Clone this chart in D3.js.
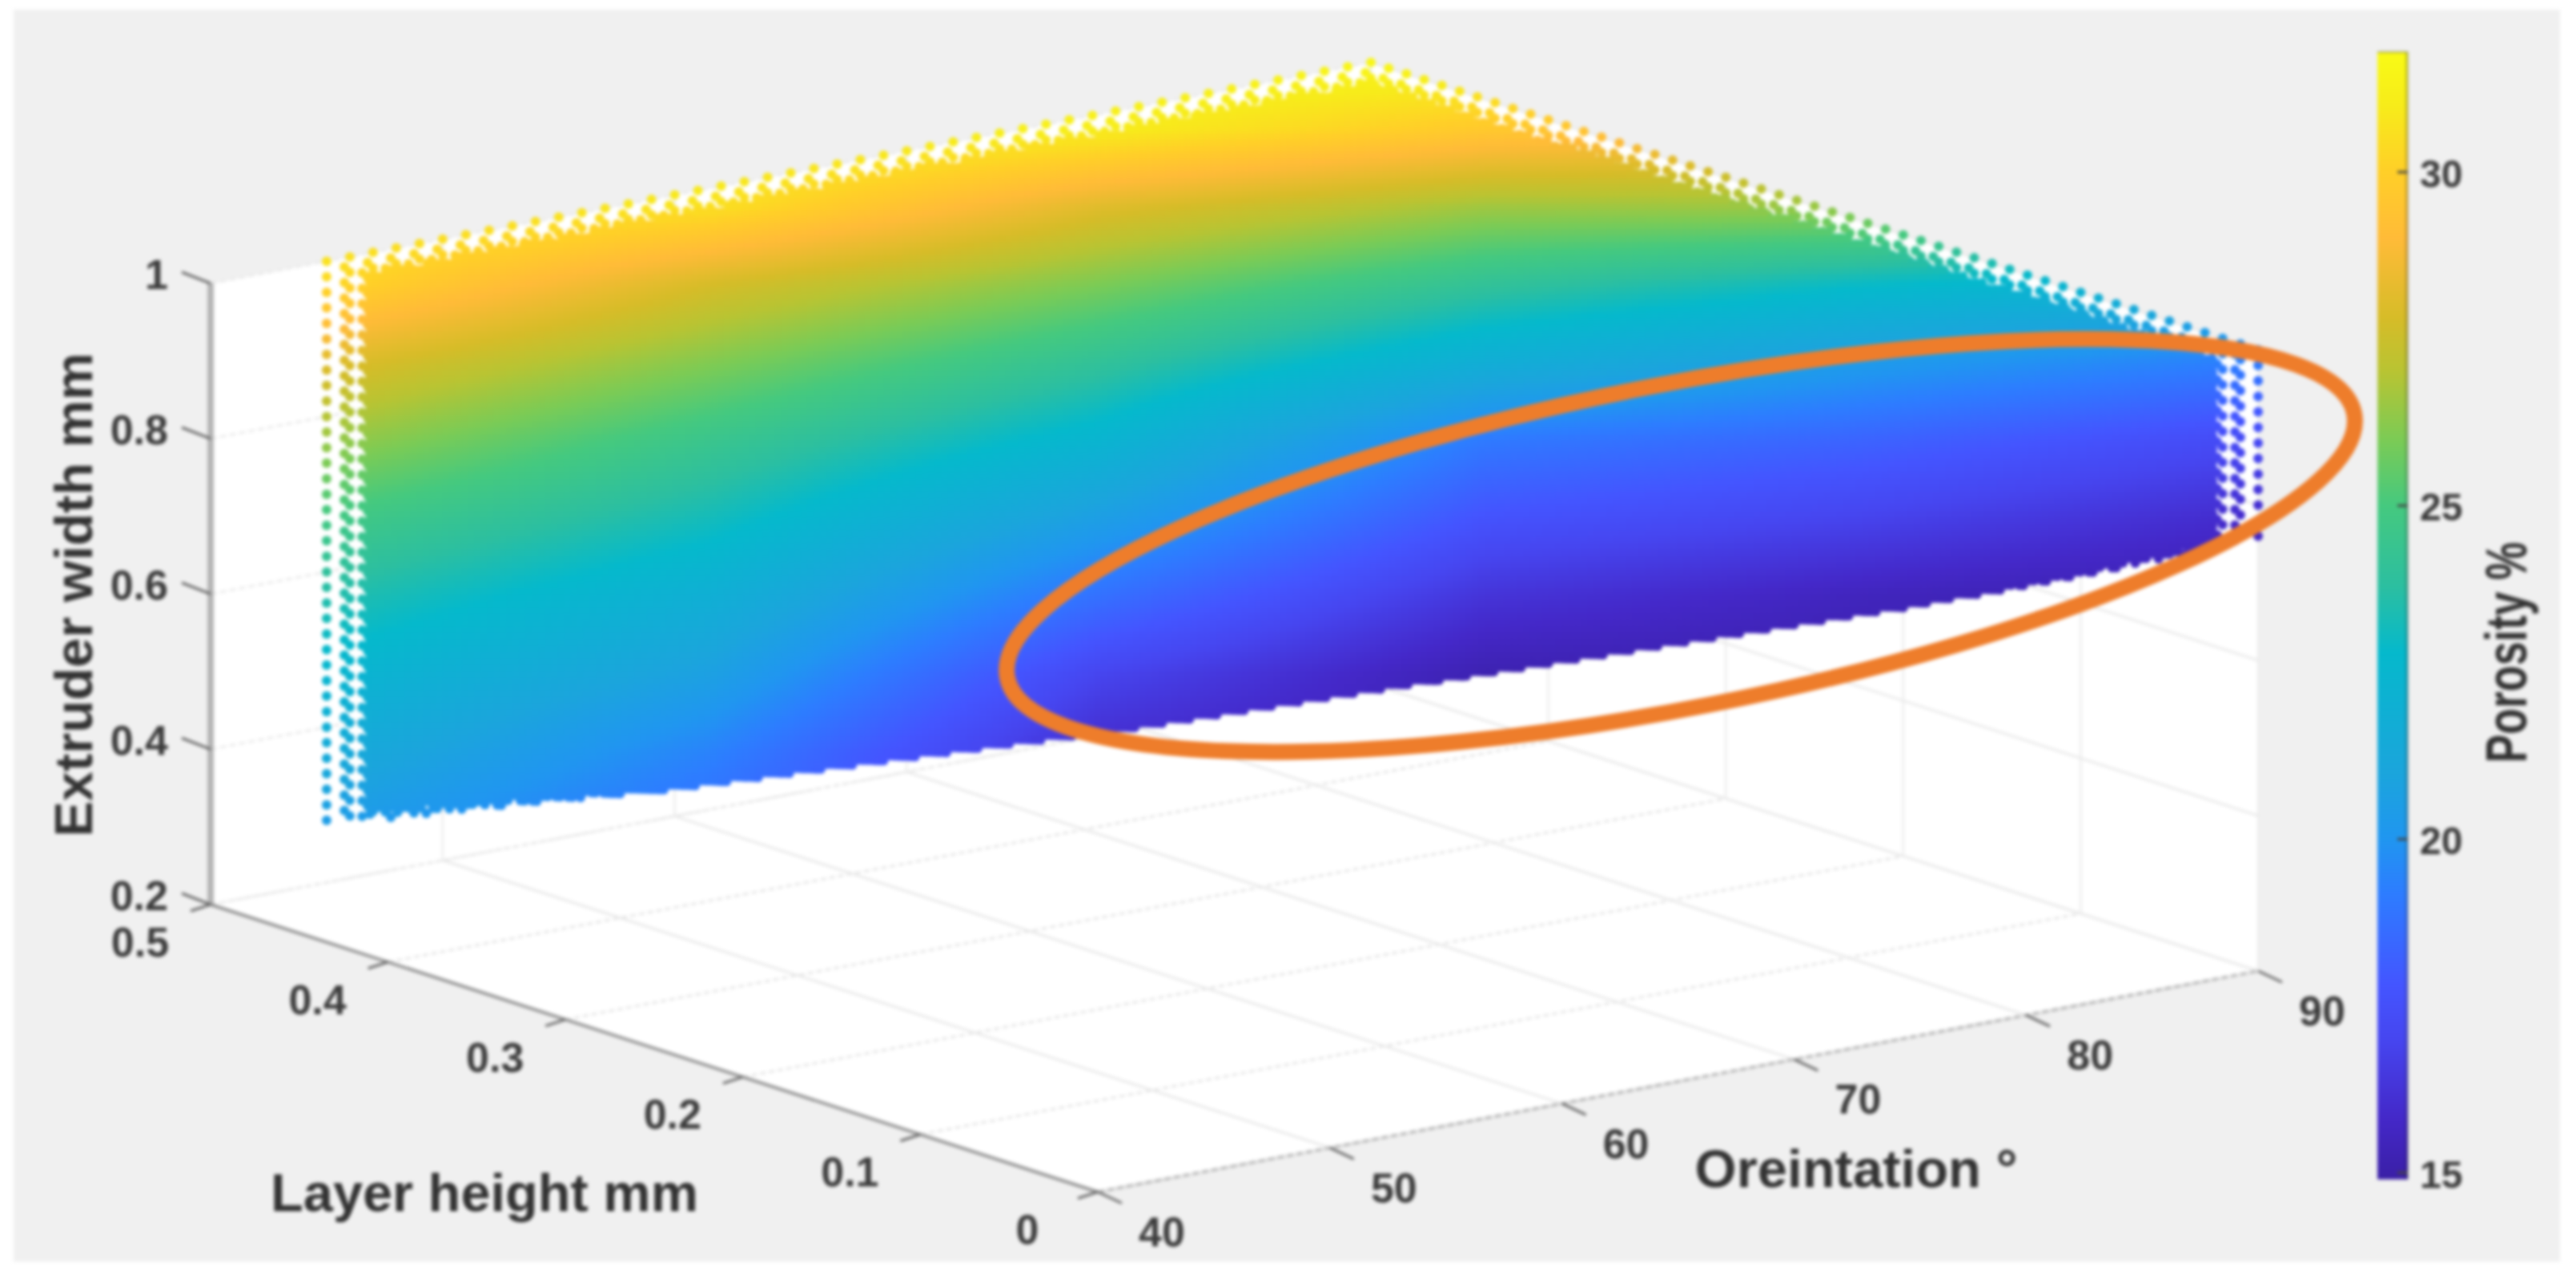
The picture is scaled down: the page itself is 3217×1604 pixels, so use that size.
<!DOCTYPE html>
<html><head><meta charset="utf-8">
<style>html,body{margin:0;padding:0;background:#fff}svg{display:block;filter:blur(1.9px)}text{font-family:"Liberation Sans",Arial,sans-serif;font-weight:700}</style>
<script src="https://cdn.jsdelivr.net/npm/d3@7/dist/d3.min.js"></script>
</head><body><svg id="c" width="3217" height="1604"></svg>
<script>
// ---- axis ticks ----
const orientationTicks=[40,50,60,70,80,90];
const layerTicks=[0,0.1,0.2,0.3,0.4,0.5];
const widthTicks=[0.2,0.4,0.6,0.8,1];
const porosityTicks=[15,20,25,30];
// ---- measured sample lattice of the scatter ----
const orientationLevels=d3.range(45,91);           // 1 degree steps
const layerLevels=d3.range(0,51).map(i=>i/100);    // 0.01 mm steps
const widthLevels=d3.range(14,51).map(i=>i/50);    // 0.02 mm steps, 0.28..1
// ---- porosity %, columns = sweep across the cloud, rows = apparent height ----
const sweepColumns=[45,54,63,72,81,90];
const apparentRows=[1.3,1.2,1.1,1.0,0.9,0.8,0.7,0.6,0.5,0.4,0.3];
const porosityRead=[
 [31.9,31.9,31.9,31.9,31.0,29.0],
 [31.9,31.9,31.1,29.7,29.0,27.0],
 [31.5,30.6,28.1,26.6,26.5,24.0],
 [30.3,27.8,26.0,24.1,22.9,22.0],
 [28.1,26.1,24.1,21.8,20.3,19.2],
 [26.5,24.5,22.4,19.1,18.3,17.2],
 [24.9,23.2,20.6,17.7,16.9,15.9],
 [23.6,21.9,18.8,16.3,15.5,15.0],
 [22.5,20.7,17.0,15.2,15.0,15.0],
 [21.5,19.4,15.9,15.0,15.0,15.0],
 [20.4,18.5,15.5,15.0,15.0,15.0]];
// lower outline of the cloud
const edgeSweep=[45,47.7,53.1,61.5,63.5,73.4,81.7,87.3,90];
const edgeApparent=[0.300,0.320,0.349,0.411,0.425,0.510,0.582,0.638,0.668];
// colour bar
const barValues=[14.9,15.8,17,17.8,19.2,20,21,22.8,23.8,25,26,27,27.8,29,30,31,31.9];
const barColours=["#3a1fa6","#4428c8","#4646f0","#4455ff","#2d7dff","#2096f0","#1ba5dc","#05b9cc","#2cbfa0","#45c97f","#7ccb55","#b8c433","#d6bc28","#ffbb38","#ffcf28","#f7ec1a","#f9fb15"];

const axisTitles={x:"Oreintation °",y:"Layer height mm",z:"Extruder width mm",c:"Porosity %"};

// ---- orthographic 3-D projection built from d3 scales ----
const F=[1371,1489],R=[2820,1213],L=[263,1130],H=776;
const xS=d3.scaleLinear([40,90],[0,1]),yS=d3.scaleLinear([0,0.5],[0,1]),zS=d3.scaleLinear([0.2,1],[0,1]);
const pX=(o,l)=>F[0]+(R[0]-F[0])*xS(o)+(L[0]-F[0])*yS(l);
const pY=(o,l,w)=>F[1]+(R[1]-F[1])*xS(o)+(L[1]-F[1])*yS(l)-H*zS(w);
const P=(o,l,w)=>[pX(o,l),pY(o,l,w)];
const sweepS=d3.scaleLinear([45,90],[pX(45,.5),pX(90,0)]);
const apparentS=d3.scaleLinear([0.2,1],[L[1],L[1]-H]);
const edgeS=d3.scaleLinear(edgeSweep,edgeApparent).clamp(true);
const topS=d3.scaleLinear([45,sweepS.invert(pX(90,.5)),90],[apparentS.invert(pY(45,.5,1)),apparentS.invert(pY(90,.5,1)),apparentS.invert(pY(90,0,1))]);
const colourS=d3.scaleLinear(barValues,barColours).clamp(true);
const cY=d3.scaleLinear([15,30],[1465,215]);

// shading of the dense cloud between the read cells
function porosityAt(px,py){
  const s=sweepS.invert(px),a=apparentS.invert(py);
  const ci=Math.max(0,Math.min(sweepColumns.length-2,Math.floor((s-45)/9)));
  const ri=Math.max(0,Math.min(apparentRows.length-2,Math.floor((1.3-a)/0.1)));
  const t=Math.max(0,Math.min(1,(s-sweepColumns[ci])/9)),u=Math.max(0,Math.min(1,(apparentRows[ri]-a)/0.1));
  const q=porosityRead;
  return (q[ri][ci]*(1-t)+q[ri][ci+1]*t)*(1-u)+(q[ri+1][ci]*(1-t)+q[ri+1][ci+1]*t)*u;
}
// outer shell: the lattice dots that stay individually visible along the outline of the cloud
const pts=[];
const leftBand=sweepS.invert(474),rightBand=sweepS.invert(2752);
widthLevels.forEach(w=>orientationLevels.forEach(o=>layerLevels.forEach(l=>{
  const px=pX(o,l),py=pY(o,l,w),s=sweepS.invert(px),a=apparentS.invert(py);
  const e=edgeS(s);
  if(a<e)return;
  if(s<leftBand||s>rightBand||a>topS(s)-0.045||a<e+0.02)pts.push({px,py});
})));
// interior: dense enough in the picture to read as continuous, so it is filled with a close dot mesh
const meshSweep=d3.range(sweepS.invert(462),sweepS.invert(2765),8/53.67);
const meshApparent=d3.range(0.30,1.30,8/970);
meshSweep.forEach(s=>meshApparent.forEach(a=>{
  if(a<edgeS(s)+0.008||a>topS(s)-0.026)return;
  pts.push({px:sweepS(s),py:apparentS(a)});
}));

const svg=d3.select("#c");
svg.append("rect").attr("x",17).attr("y",12).attr("width",3180).attr("height",1564).attr("fill","#f0f0f0");
svg.append("polygon").attr("fill","#fff").attr("points",[P(40,.5,.2),P(40,.5,1),P(90,.5,1),P(90,0,1),P(90,0,.2),P(40,0,.2)].join(" "));

const grid=svg.append("g").attr("fill","none");
function seg(g,a,b,col,w,dash){g.append("line").attr("x1",a[0]).attr("y1",a[1]).attr("x2",b[0]).attr("y2",b[1]).attr("stroke",col).attr("stroke-width",w).attr("stroke-dasharray",dash||null);}
layerTicks.forEach(l=>{seg(grid,P(40,l,.2),P(90,l,.2),"#e2e2e2",2.5,"7 4");seg(grid,P(90,l,.2),P(90,l,1),"#ececec",2.5);});
orientationTicks.forEach(o=>{seg(grid,P(o,0,.2),P(o,.5,.2),"#e6e6e6",2.5);seg(grid,P(o,.5,.2),P(o,.5,1),"#ececec",2.5);});
widthTicks.forEach(w=>{seg(grid,P(40,.5,w),P(90,.5,w),"#e8e8e8",2.5,"8 4");seg(grid,P(90,0,w),P(90,.5,w),"#e8e8e8",2.5);});

// axes
const ax=svg.append("g");
seg(ax,P(40,.5,.2),P(40,.5,1),"#b4b4b4",8);
seg(ax,P(40,.5,.2),P(40,0,.2),"#8c8c8c",3.5);
seg(ax,P(40,0,.2),P(90,0,.2),"#b8b8b8",3.5,"9 3");
const lab=svg.append("g").attr("fill","#3c3c3c").attr("font-size",52).attr("dominant-baseline","central");
widthTicks.forEach(w=>{const p=P(40,.5,w);seg(ax,p,[p[0]-36,p[1]-14],"#666",3);
  lab.append("text").attr("x",p[0]-53).attr("y",p[1]-11).attr("text-anchor","end").text(w);});
layerTicks.forEach(l=>{const p=P(40,l,.2);seg(ax,p,[p[0]-25,p[1]+8],"#666",3);
  lab.append("text").attr("x",p[0]-88).attr("y",p[1]+47).attr("text-anchor","middle").text(l);});
orientationTicks.forEach(o=>{const p=P(o,0,.2);seg(ax,p,[p[0]+30,p[1]+14],"#666",3);
  lab.append("text").attr("x",p[0]+80).attr("y",p[1]+50).attr("text-anchor","middle").text(o);});

// scatter cloud
svg.append("g").selectAll("circle").data(pts).join("circle")
  .attr("cx",d=>d.px).attr("cy",d=>d.py).attr("r",6).attr("fill",d=>colourS(porosityAt(d.px,d.py)));

// hand-drawn highlight ellipse
svg.append("ellipse").attr("cx",2099).attr("cy",681.5).attr("rx",857).attr("ry",202)
  .attr("transform","rotate(-11.1 2099 681.5)").attr("fill","none").attr("stroke","#ee7d2b").attr("stroke-width",20);

// colour bar
const defs=svg.append("defs"),gr=defs.append("linearGradient").attr("id","bar").attr("x1",0).attr("x2",0).attr("y1",1).attr("y2",0);
const cTop=cY(31.8),cBot=cY(14.9);
barValues.forEach((v,i)=>gr.append("stop").attr("offset",(cY(v)-cBot)/(cTop-cBot)).attr("stop-color",barColours[i]));
svg.append("rect").attr("x",2969).attr("y",cTop).attr("width",38).attr("height",cBot-cTop).attr("fill","url(#bar)");
seg(svg,[3006,cTop],[3006,cBot],"rgba(0,0,0,0.28)",3);
seg(svg,[2969,cTop],[3007,cTop],"rgba(0,0,0,0.3)",2);
porosityTicks.forEach(v=>{seg(svg,[2994,cY(v)],[3007,cY(v)],"#444",3);
  svg.append("text").attr("x",3022).attr("y",cY(v)+2).attr("font-size",48).attr("fill","#3c3c3c").attr("dominant-baseline","central").text(v);});

// titles
const title=(t,x,y,size,rot,len)=>{const e=svg.append("text").attr("font-size",size).attr("fill","#333").attr("text-anchor","middle").attr("dominant-baseline","central")
  .attr("transform",`translate(${x},${y})${rot?` rotate(${rot})`:""}`).text(t);
  if(len)e.attr("textLength",len).attr("lengthAdjust","spacingAndGlyphs");};
title(axisTitles.z,92,743,66,-90,605);
title(axisTitles.y,605,1490,66,0,534);
title(axisTitles.x,2318,1460,66,0,403);
title(axisTitles.c,3130,815,72,-90,276);
</script></body></html>
